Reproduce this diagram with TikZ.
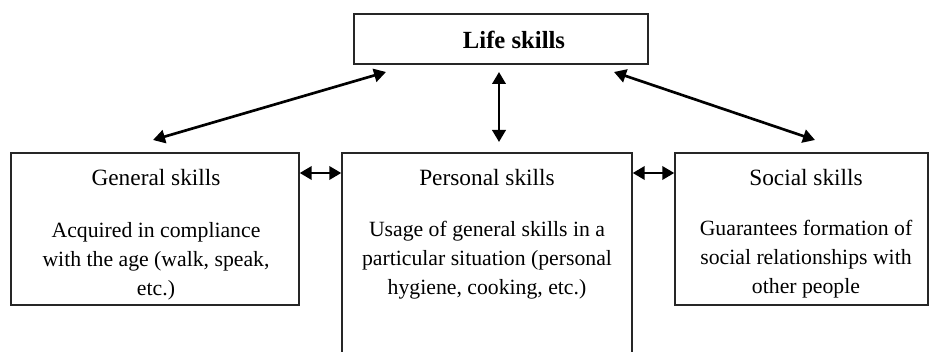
\documentclass[tikz,border=0pt]{standalone}
\usepackage{fontspec}
\setmainfont{Liberation Serif}
\usetikzlibrary{arrows.meta}
\begin{document}
\begin{tikzpicture}[x=0.75pt,y=-0.75pt,
  box/.style={draw=black!85,line width=1.1pt,inner sep=0pt},
  ttl/.style={font=\fontsize{17.5}{21}\selectfont,inner sep=0pt},
  body/.style={font=\fontsize{16.3}{21.75}\selectfont,align=center,inner sep=0pt},
  link/.style={line width=2pt,{Triangle[length=9pt,width=10pt]}-{Triangle[length=9pt,width=10pt]}}]
\useasboundingbox (0,0) rectangle (936,352);
\begin{scope}
\clip (0,0) rectangle (936,352);
\node[box,minimum width=294*0.75pt,minimum height=50*0.75pt] (life) at (501,39) {};
\node[box,minimum width=288*0.75pt,minimum height=152*0.75pt] (gen) at (155,229) {};
\node[box,minimum width=290*0.75pt,minimum height=230*0.75pt] (per) at (487,268) {};
\node[box,minimum width=253*0.75pt,minimum height=152*0.75pt] (soc) at (801.5,229) {};
\end{scope}
\node[ttl,font=\fontsize{18.5}{21}\selectfont\bfseries] (lifet) at (514,40) {Life skills};
\node[ttl] (gent) at (156,178) {General skills};
\node[ttl] (pert) at (487,178) {Personal skills};
\node[ttl] (soct) at (806,178) {Social skills};
\node[body] (genb) at (156,261) {Acquired in compliance\\with the age (walk, speak,\\etc.)};
\node[body] (perb) at (487,260) {Usage of general skills in a\\particular situation (personal\\hygiene, cooking, etc.)};
\node[body] (socb) at (806,259) {Guarantees formation of\\social relationships with\\other people};
\coordinate (lA) at (153,140);
\coordinate (lB) at (386,72);
\coordinate (rA) at (614,72);
\coordinate (rB) at (815,140);
\coordinate (vA) at (499,72);
\coordinate (vB) at (499,142);
\draw[link] (lA) -- (lB);
\draw[link] (rA) -- (rB);
\draw[link] (vA) -- (vB);
\draw[link] (gen.east |- 0,173) -- (per.west |- 0,173);
\draw[link] (per.east |- 0,173) -- (soc.west |- 0,173);
\end{tikzpicture}
\end{document}
